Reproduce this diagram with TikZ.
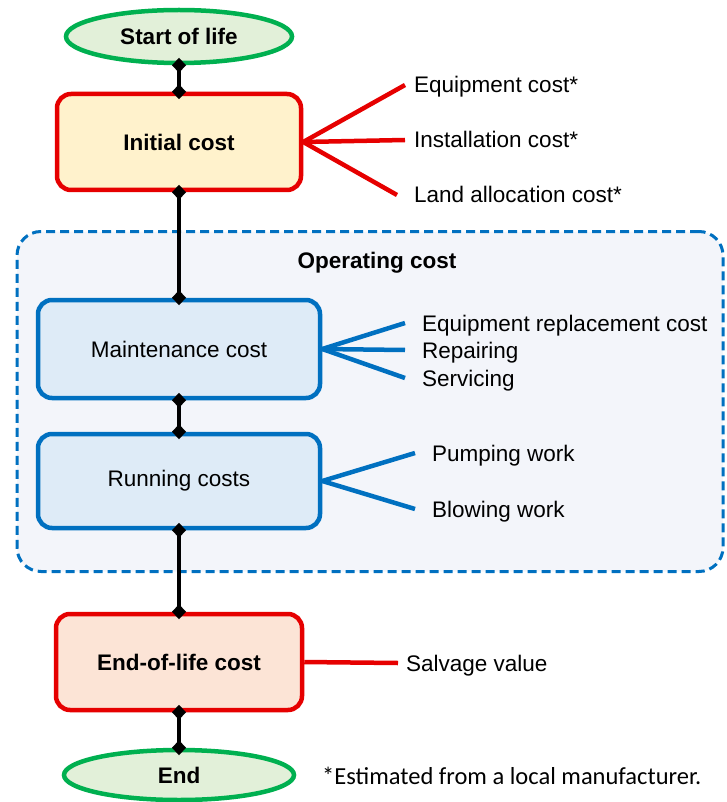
\documentclass[tikz,border=0pt]{standalone}
\usepackage{fontspec}
\setmainfont{Liberation Sans}
\newfontfamily\notafont{Carlito}
\usetikzlibrary{shapes.geometric,arrows.meta}

\definecolor{verde}{RGB}{0,176,80}
\definecolor{verdeclaro}{RGB}{226,240,217}
\definecolor{vermelho}{RGB}{230,0,0}
\definecolor{creme}{RGB}{255,242,204}
\definecolor{salmao}{RGB}{252,228,214}
\definecolor{azul}{RGB}{0,112,192}
\definecolor{azulclaro}{RGB}{222,235,247}
\definecolor{fundo}{RGB}{243,245,250}

\begin{document}
\begin{tikzpicture}[x=1pt, y=-1pt,
    every node/.style={font=\fontsize{22.5}{27}\selectfont},
    extremo/.style={ellipse, draw=verde, fill=verdeclaro, line width=4.5pt, inner sep=0pt,
        font=\fontsize{22.5}{27}\selectfont\bfseries},
    caixa/.style={rectangle, rounded corners=14pt, line width=4.5pt, inner sep=0pt},
    ligacao/.style={line width=4.5pt, {Diamond[length=15pt 0,width=14pt 0]}-{Diamond[length=15pt 0,width=14pt 0]},
        shorten <=-7.5pt, shorten >=-7.5pt},
    ramo/.style={line width=4.5pt},
    rotulo/.style={anchor=west, inner ysep=0pt, inner xsep=9pt, text height=16pt, text depth=0pt}]

    \useasboundingbox (0,0) rectangle (726,802);

    % 0. Fundo do custo de operacao
    \node[draw=azul, fill=fundo, line width=3pt, dash pattern=on 9pt off 5pt, rounded corners=24pt,
        minimum width=706pt, minimum height=340pt] (operacao) at (370,401.5) {};
    \node[font=\fontsize{22.5}{27}\selectfont\bfseries] (tituloop) at (377,263) {Operating cost};

    % 1. Etapas do ciclo de vida
    \node[extremo, minimum width=226pt, minimum height=53pt] (inicio) at (179,36.5) {Start of life};
    \node[caixa, draw=vermelho, fill=creme, minimum width=244pt, minimum height=96pt,
        font=\fontsize{22.5}{27}\selectfont\bfseries] (inicial) at (179,142) {Initial cost};
    \node[caixa, draw=azul, fill=azulclaro, minimum width=282pt, minimum height=98pt] (manut) at (179,349) {Maintenance cost};
    \node[caixa, draw=azul, fill=azulclaro, minimum width=282pt, minimum height=94pt] (funcion) at (179,481) {Running costs};
    \node[caixa, draw=vermelho, fill=salmao, minimum width=246pt, minimum height=96pt,
        font=\fontsize{22.5}{27}\selectfont\bfseries] (fimvida) at (179,662) {End-of-life cost};
    \node[extremo, minimum width=230pt, minimum height=50pt] (fim) at (179,775) {End};

    % 2. Ligacoes verticais
    \draw[ligacao] (inicio) -- (inicial);
    \draw[ligacao] (inicial) -- (manut);
    \draw[ligacao] (manut) -- (funcion);
    \draw[ligacao] (funcion) -- (fimvida);
    \draw[ligacao] (fimvida) -- (fim);

    % 3. Itens de cada custo
    \node[rotulo] (equip) at (405,85) {Equipment cost*};
    \node[rotulo] (instal) at (405,140) {Installation cost*};
    \node[rotulo, inner xsep=17pt] (terreno) at (397,195) {Land allocation cost*};
    \draw[ramo, vermelho] (inicial.east) -- (equip.west);
    \draw[ramo, vermelho] (inicial.east) -- (instal.west);
    \draw[ramo, vermelho] (inicial.east) -- (terreno.west);

    \node[rotulo, inner xsep=17pt] (substit) at (405,323) {Equipment replacement cost};
    \node[rotulo, inner xsep=17pt] (reparo) at (405,350) {Repairing};
    \node[rotulo, inner xsep=17pt] (servico) at (405,378) {Servicing};
    \draw[ramo, azul] (manut.east) -- (substit.west);
    \draw[ramo, azul] (manut.east) -- (reparo.west);
    \draw[ramo, azul] (manut.east) -- (servico.west);

    \node[rotulo, inner xsep=17pt] (bombeio) at (415,453) {Pumping work};
    \node[rotulo, inner xsep=17pt] (sopro) at (415,509) {Blowing work};
    \draw[ramo, azul] (funcion.east) -- (bombeio.west);
    \draw[ramo, azul] (funcion.east) -- (sopro.west);

    \node[rotulo, inner xsep=8pt] (sucata) at (398,663) {Salvage value};
    \draw[ramo, vermelho] (fimvida.east) -- (sucata.west);

    % 4. Nota
    \node[anchor=west, inner sep=0pt, font=\notafont\fontsize{24.5}{29}\selectfont] (nota) at (322,776)
        {*Estimated from a local manufacturer.};

\end{tikzpicture}
\end{document}
